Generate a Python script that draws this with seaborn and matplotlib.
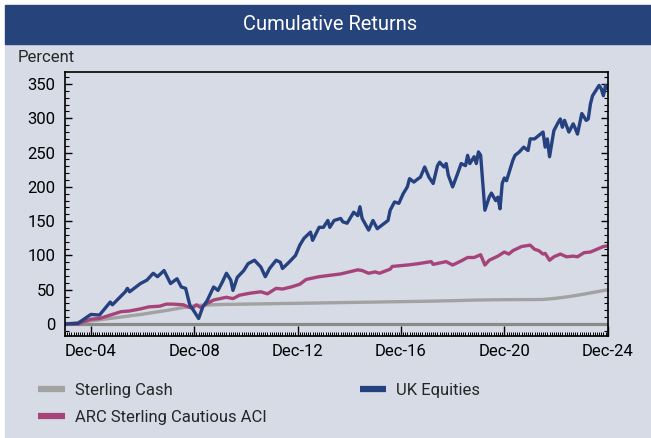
import pandas as pd
import matplotlib
matplotlib.use("Agg")
import matplotlib.pyplot as plt
import matplotlib.dates as mdates
from matplotlib.lines import Line2D
from matplotlib.patches import Rectangle
from matplotlib.ticker import MultipleLocator
import seaborn as sns

START = pd.Timestamp("2003-12-01")

# months after Dec-03
equity_months = [0, 6, 12, 16, 21, 22, 28, 29, 30, 35, 38, 41, 43, 46, 49, 52, 54, 56, 58, 59,
                 62, 64, 66, 69, 71, 73, 75, 77, 78, 80, 83, 85, 88, 91, 93, 95, 98, 100, 101, 104,
                 107, 109, 111, 114, 115, 118, 120, 122, 123, 125, 128, 129, 131, 134, 136, 137, 138, 141, 143, 145,
                 150, 151, 153, 155, 157, 159, 160, 162, 164, 165, 167, 169, 171, 173, 174, 176, 177, 178, 180, 182,
                 184, 186, 187, 188, 190, 191, 192, 193, 195, 197, 198, 200, 201, 202, 203, 204, 205, 208, 209, 211,
                 213, 215, 216, 218, 220, 222, 223, 224, 225, 227, 229, 230, 231, 232, 234, 236, 237, 238, 240, 242,
                 243, 244, 245, 246, 248, 249, 250, 251, 252]
equity_values = [0, 1, 14, 13, 32, 28, 47, 52, 47, 59, 64, 74, 69, 78, 59, 66, 54, 52, 27, 23,
                 8, 25, 34, 54, 49, 61, 74, 64, 49, 68, 78, 88, 93, 83, 69, 81, 93, 90, 81, 90,
                 100, 115, 125, 134, 122, 141, 141, 151, 141, 151, 154, 149, 147, 163, 158, 171, 154, 137, 151, 139,
                 151, 166, 178, 176, 190, 200, 212, 207, 212, 214, 229, 214, 205, 231, 236, 229, 234, 217, 200, 217,
                 234, 231, 246, 234, 244, 234, 251, 246, 166, 185, 191, 180, 185, 168, 205, 213, 209, 239, 246, 251,
                 258, 253, 270, 270, 275, 280, 258, 270, 244, 282, 294, 299, 287, 297, 280, 292, 285, 277, 307, 297,
                 299, 321, 333, 338, 348, 343, 333, 348, 343]

arc_months = [0, 6, 12, 16, 21, 26, 30, 35, 39, 44, 47, 50, 55, 57, 59, 61, 63, 66, 69, 75,
              78, 81, 86, 91, 94, 98, 101, 105, 109, 112, 118, 128, 136, 138, 141, 144, 146, 151, 152, 159,
              164, 170, 171, 177, 180, 184, 187, 190, 193, 195, 197, 201, 204, 206, 208, 212, 216, 218, 220, 222,
              223, 225, 227, 230, 233, 236, 238, 241, 244, 247, 250, 252]
arc_values = [0, 0, 7, 8, 13, 18, 19, 22, 25, 26, 29, 29, 28, 25, 23, 28, 24, 30, 35, 39,
              37, 42, 45, 47, 44, 52, 51, 54, 58, 65, 69, 73, 79, 78, 74, 76, 74, 80, 84, 86,
              88, 91, 87, 91, 86, 92, 97, 97, 101, 86, 93, 99, 105, 102, 107, 113, 115, 109, 107, 102,
              103, 93, 98, 102, 98, 99, 98, 104, 105, 109, 113, 114]

cash_months = [0, 12, 24, 36, 48, 60, 66, 72, 84, 96, 108, 120, 132, 144, 156, 168, 180, 192, 204, 216,
               222, 228, 234, 240, 246, 252]
cash_values = [0, 4.5, 9.3, 14.3, 20.2, 26.8, 27.8, 28.4, 29.0, 29.6, 30.2, 30.8, 31.4, 32.0, 32.6, 33.2, 34.0, 35.0, 35.5, 35.6,
               35.8, 37.5, 40.0, 43.0, 46.5, 50.0]

series_names = ["Sterling Cash", "ARC Sterling Cautious ACI", "UK Equities"]
series_colors = ["#a2a2a2", "#a6447a", "#26417f"]

tick_dates = ["2004-12-01", "2008-12-01", "2012-12-01", "2016-12-01", "2020-12-01", "2024-12-01"]
tick_labels = ["Dec-04", "Dec-08", "Dec-12", "Dec-16", "Dec-20", "Dec-24"]
y_ticks = [0, 50, 100, 150, 200, 250, 300, 350]

BG = "#d6dbe6"
NAVY = "#27437b"


def to_frame(name, months, values):
    dates = [START + pd.DateOffset(months=m) for m in months]
    return pd.DataFrame({"date": dates, "value": values, "series": name})


df = pd.concat([
    to_frame("Sterling Cash", cash_months, cash_values),
    to_frame("ARC Sterling Cautious ACI", arc_months, arc_values),
    to_frame("UK Equities", equity_months, equity_values),
], ignore_index=True)

sns.set_style("ticks")
plt.rcParams["font.family"] = ["Roboto", "DejaVu Sans"]

W, H = 651, 438
fig = plt.figure(figsize=(W / 100, H / 100), dpi=100, facecolor="white")

# panel background and title band
fig.patches.append(Rectangle((5 / W, 0), 1, 1 - 44 / H, transform=fig.transFigure,
                             color=BG, zorder=-3))
fig.patches.append(Rectangle((5 / W, 1 - 44 / H), 1, 39 / H, transform=fig.transFigure,
                             color=NAVY, zorder=-3))
fig.text(330 / W, 1 - 25 / H, "Cumulative Returns", color="white", fontsize=14.5,
         ha="center", va="center")
fig.text(18 / W, 1 - 58 / H, "Percent", fontsize=12, ha="left", va="center")

ax = fig.add_axes([65 / W, 1 - 336 / H, (607.7 - 65) / W, (336 - 71.7) / H])
ax.set_facecolor(BG)

ax.axhline(0, color="#8a8a8a", lw=2.3, zorder=1)
sns.lineplot(data=df, x="date", y="value", hue="series", hue_order=series_names,
             palette=series_colors, linewidth=2.4, estimator=None, sort=False,
             legend=False, ax=ax, zorder=2)

ax.set_xlim(START, pd.Timestamp("2024-12-01"))
ax.set_ylim(-17.5, 368)
ax.set_xticks(pd.to_datetime(tick_dates))
ax.set_xticklabels(tick_labels)
ax.xaxis.set_minor_locator(mdates.MonthLocator())
ax.set_yticks(y_ticks)
ax.yaxis.set_minor_locator(MultipleLocator(10))
ax.set_xlabel("")
ax.set_ylabel("")

ax.tick_params(axis="both", which="both", direction="in", colors="black", labelsize=12)
ax.tick_params(axis="x", which="major", length=7, width=1, pad=6, top=False)
ax.tick_params(axis="x", which="minor", length=3, width=0.7, top=False)
ax.tick_params(axis="y", which="major", length=5, width=1, pad=7, right=True)
ax.tick_params(axis="y", which="minor", length=3, width=0.8, right=True)
for s in ax.spines.values():
    s.set_color("black")
    s.set_linewidth(1.2)

handles = [Line2D([], [], color=c, lw=4.5, solid_capstyle="butt") for c in series_colors]
fig.legend(handles, series_names, ncol=2, loc="upper left", bbox_to_anchor=(23 / W, 1 - 368 / H),
           frameon=False, fontsize=12, handlelength=1.6, handletextpad=0.6,
           columnspacing=5.6, labelspacing=0.7)

fig.savefig("out.png", dpi=100, facecolor=fig.get_facecolor())
